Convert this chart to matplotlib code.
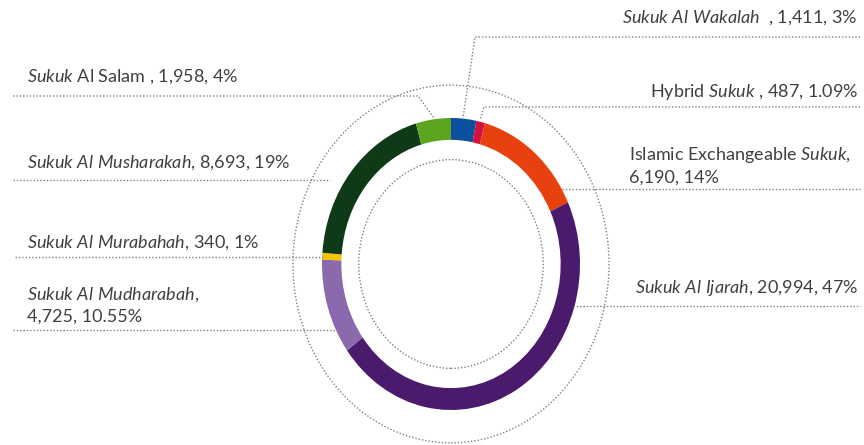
import matplotlib.pyplot as plt
from matplotlib.patches import Ellipse

plt.rcParams['font.family'] = ['Lato', 'DejaVu Sans']
plt.rcParams['mathtext.fontset'] = 'custom'
plt.rcParams['mathtext.rm'] = 'Lato'
plt.rcParams['mathtext.it'] = 'Lato:italic'

# data, clockwise from the top
names = ['Sukuk Al Wakalah', 'Hybrid Sukuk', 'Islamic Exchangeable Sukuk', 'Sukuk Al Ijarah',
         'Sukuk Al Mudharabah', 'Sukuk Al Murabahah', 'Sukuk Al Musharakah', 'Sukuk Al Salam']
values = [1411, 487, 6190, 20994, 4725, 340, 8693, 1958]
colors = ['#0b4f9e', '#d3123f', '#e8400f', '#4a1a6c', '#8a6aac', '#f4c400', '#0e3a17', '#5ca61f']
labels = [r'$\mathit{Sukuk\ Al\ Wakalah}$  , 1,411, 3%',
          r'Hybrid $\mathit{Sukuk}$ , 487, 1.09%',
          'Islamic Exchangeable $\\mathit{Sukuk}$,\n6,190, 14%',
          r'$\mathit{Sukuk\ Al\ Ijarah}$, 20,994, 47%',
          '$\\mathit{Sukuk\\ Al\\ Mudharabah}$,\n4,725, 10.55%',
          r'$\mathit{Sukuk\ Al\ Murabahah}$, 340, 1%',
          r'$\mathit{Sukuk\ Al\ Musharakah}$, 8,693, 19%',
          r'$\mathit{Sukuk}$ Al Salam , 1,958, 4%']

W, H = 864, 445
cx, cy, rx, ry = 451, 264, 129, 146   # ring centre and radii in pixels

fig = plt.figure(figsize=(W / 100, H / 100), dpi=100)

# ring axes: one data unit = ring radius, stretched to the reference's ellipse
ax = fig.add_axes([0, 0, 1, 1])
ax.pie(values, colors=colors, startangle=90, counterclock=False,
       radius=1, wedgeprops=dict(width=0.15, linewidth=0))
ax.set_aspect('auto')
ax.set_xlim(-cx / rx, (W - cx) / rx)
ax.set_ylim(-(H - cy) / ry, cy / ry)
for r in (0.715, 1.225):
    ax.add_patch(Ellipse((0, 0), 2 * r, 2 * r, fill=False, edgecolor='#7f7f7f',
                         linestyle=(0, (1, 1.4)), linewidth=1.0))
ax.axis('off')

# overlay axes in pixel coordinates for labels and leader lines
ov = fig.add_axes([0, 0, 1, 1])
ov.set_xlim(0, W)
ov.set_ylim(H, 0)
ov.axis('off')
ov.patch.set_alpha(0)

dot = dict(color='#7f7f7f', linestyle=(0, (1, 1.4)), linewidth=1.0)
txt = dict(color='#404042', fontsize=13)

# left side labels
ov.text(27, 82, labels[7], ha='left', va='baseline', **txt)
ov.plot([13, 418, 434], [96, 96, 118], **dot)

ov.text(27, 168, labels[6], ha='left', va='baseline', **txt)
ov.plot([13, 330], [180, 180], **dot)

ov.text(27, 248, labels[5], ha='left', va='baseline', **txt)
ov.plot([15, 325], [257, 257], **dot)

ov.text(27, 322, labels[4], ha='left', va='baseline', linespacing=1.35, **txt)
ov.plot([13, 336], [330, 330], **dot)

# right side labels
ov.text(858, 23, labels[0], ha='right', va='baseline', **txt)
ov.plot([860, 475, 463], [37, 37, 118], **dot)

ov.text(858, 97, labels[1], ha='right', va='baseline', **txt)
ov.plot([860, 484, 480], [107, 107, 120], **dot)

ov.text(629, 183, labels[2], ha='left', va='baseline', linespacing=1.35, **txt)
ov.plot([562, 860], [189, 189], **dot)

ov.text(858, 293, labels[3], ha='right', va='baseline', **txt)
ov.plot([573, 860], [306, 306], **dot)

fig.savefig('out.png', dpi=100, facecolor='white')
